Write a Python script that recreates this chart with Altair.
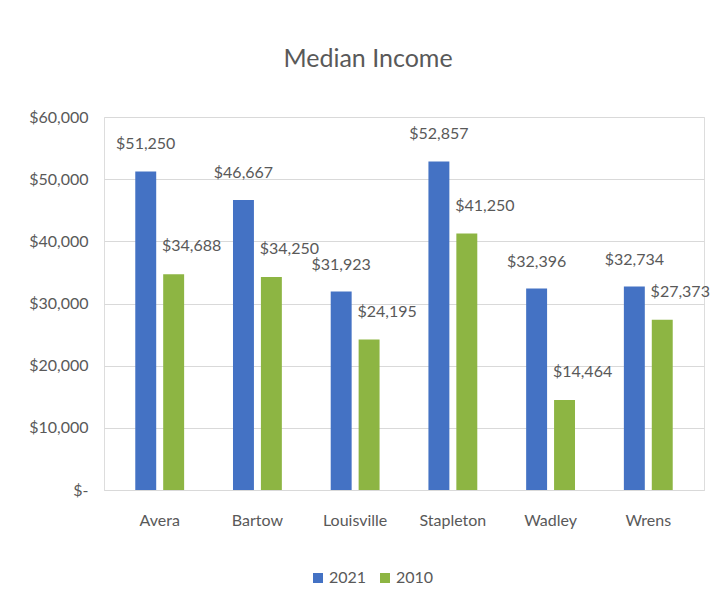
import altair as alt
import pandas as pd

cities = ["Avera", "Bartow", "Louisville", "Stapleton", "Wadley", "Wrens"]
income_2021 = [51250, 46667, 31923, 52857, 32396, 32734]
income_2010 = [34688, 34250, 24195, 41250, 14464, 27373]
series = ["2021", "2010"]
y_ticks = [0, 10000, 20000, 30000, 40000, 50000, 60000]

rows = []
for c, a, b in zip(cities, income_2021, income_2010):
    rows.append({"city": c, "year": "2021", "value": a})
    rows.append({"city": c, "year": "2010", "value": b})
df = pd.DataFrame(rows)

FONT = "Lato"
GRAY = "#595959"
GRID = "#d9d9d9"
colors = ["#4472C4", "#8DB543"]

x = alt.X(
    "city:N", sort=cities, title=None,
    scale=alt.Scale(paddingInner=0.5, paddingOuter=0.32),
    axis=alt.Axis(labelAngle=0, labelFont=FONT, labelFontSize=16, labelColor=GRAY,
                  labelPadding=22, ticks=False, domainColor=GRID, domainWidth=1),
)
xo = alt.XOffset("year:N", sort=series, scale=alt.Scale(paddingInner=0.25))
y = alt.Y(
    "value:Q", title=None,
    scale=alt.Scale(domain=[0, 60000], nice=False),
    axis=alt.Axis(values=y_ticks, ticks=False, domain=False, gridColor=GRID, gridWidth=1,
                  labelFont=FONT, labelFontSize=16, labelColor=GRAY, labelPadding=16,
                  labelExpr="datum.value == 0 ? '$-\u00a0' : '$' + format(datum.value, ',')"),
)
color = alt.Color(
    "year:N", sort=series,
    scale=alt.Scale(domain=series, range=colors),
    legend=alt.Legend(title=None, orient="none", legendX=206, legendY=453,
                      direction="horizontal", symbolType="square", symbolSize=100,
                      symbolStrokeWidth=0, labelFont=FONT, labelFontSize=16,
                      labelColor=GRAY, columnPadding=10, labelOffset=3),
)

bars = alt.Chart(df).mark_bar().encode(x=x, xOffset=xo, y=y, color=color)

lab_2021 = alt.Chart(df).transform_filter(alt.datum.year == "2021").mark_text(
    baseline="middle", dy=-27, font=FONT, fontSize=16, color=GRAY
).encode(x=x, xOffset=xo, y=y, text=alt.Text("value:Q", format="$,.0f"))

lab_2010 = alt.Chart(df).transform_filter(alt.datum.year == "2010").mark_text(
    baseline="middle", dy=-28, dx=18, font=FONT, fontSize=16, color=GRAY
).encode(x=x, xOffset=xo, y=y, text=alt.Text("value:Q", format="$,.0f"))

chart = (
    alt.layer(bars, lab_2021, lab_2010)
    .properties(
        width=600, height=373,
        title=alt.TitleParams("Median Income", font=FONT, fontSize=25, color=GRAY,
                              fontWeight="normal", offset=37, dx=-36),
        autosize=alt.AutoSizeParams(type="none"),
        padding={"left": 96, "top": 109, "right": 15, "bottom": 100},
    )
    .configure_view(stroke=None)
    .configure(background="white")
)

chart.save("out.html", embed_options={"renderer": "svg", "actions": False})
